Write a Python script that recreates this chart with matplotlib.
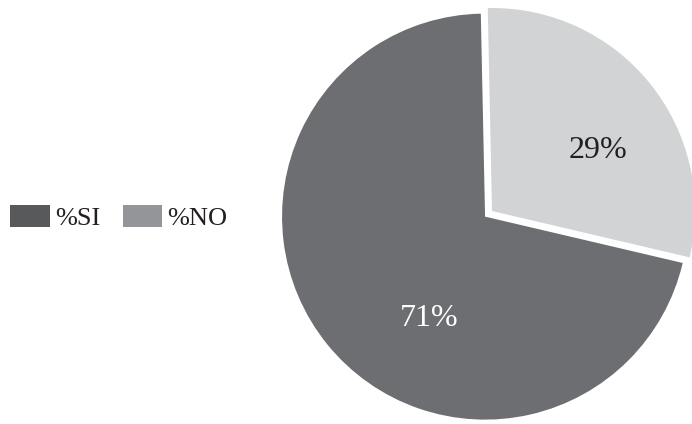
import matplotlib.pyplot as plt
from matplotlib.patches import Patch

# Datos del gráfico
categorias = ['%SI', '%NO']
porcentajes = [71, 29]
colores_pie = ['#6d6e71', '#d1d3d4']
colores_leyenda = ['#58595b', '#939598']

plt.rcParams['font.family'] = ['Liberation Serif', 'DejaVu Serif']

fig = plt.figure(figsize=(6.92, 4.24), dpi=100)
ax = fig.add_axes([0, 0, 1, 1])

# Pastel: el sector SI ligeramente separado
ax.pie(porcentajes, colors=colores_pie, startangle=91.2, counterclock=True,
       explode=[0.044, 0], radius=1, wedgeprops=dict(linewidth=0))

# Escala: 1 unidad = 203 px, centro en (492, 213) px desde abajo
esc = 203
cx, cy = 492, 213
ax.set_aspect('auto')
ax.set_xlim(-cx / esc, (692 - cx) / esc)
ax.set_ylim(-cy / esc, (424 - cy) / esc)
ax.axis('off')

# Etiquetas de porcentaje (posiciones en px)
pos_etiquetas = [(429, 318), (598, 150)]
color_texto = ['white', '#231f20']
for v, (px, py), c in zip(porcentajes, pos_etiquetas, color_texto):
    ax.text((px - cx) / esc, (424 - py - cy) / esc, f'{v}%',
            ha='center', va='center', fontsize=23, color=c)

# Leyenda a la izquierda
handles = [Patch(facecolor=c, edgecolor='none') for c in colores_leyenda]
fig.legend(handles, categorias, loc='center left', ncol=2,
           bbox_to_anchor=(10 / 692, 0.487), frameon=False,
           fontsize=19, handlelength=1.5, handleheight=0.9,
           handletextpad=0.2, columnspacing=0.85, borderpad=0,
           borderaxespad=0, labelcolor='#231f20')

fig.savefig('out.png', dpi=100)
